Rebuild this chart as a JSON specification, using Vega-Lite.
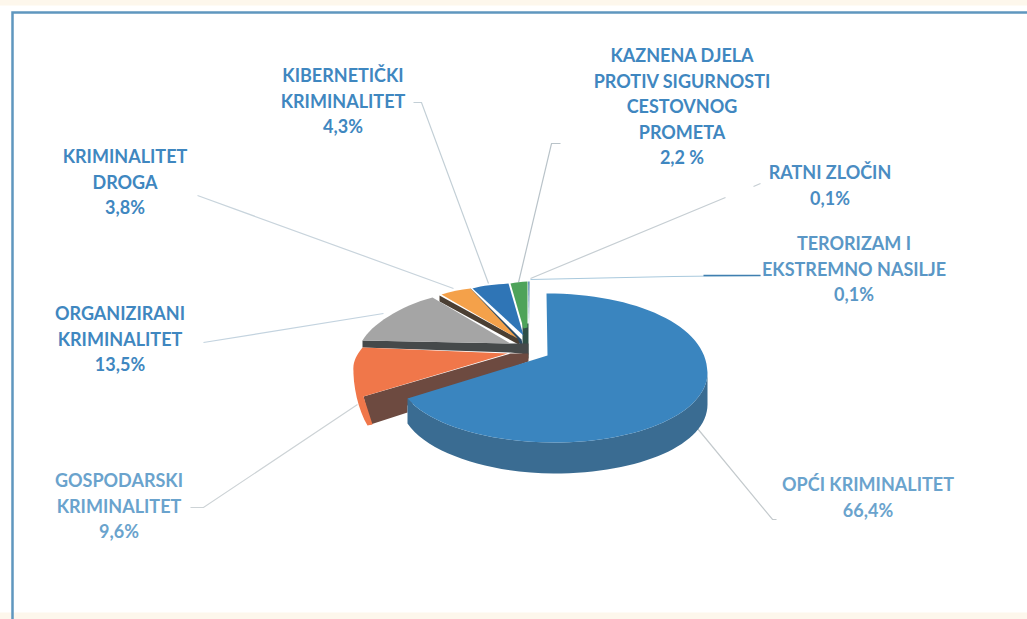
{
"$schema":"https://vega.github.io/schema/vega-lite/v6.json",
"width":1027,"height":619,"padding":0,
"autosize":"none",
"background":"#ffffff",
"config":{"view":{"stroke":null},"axis":{"disable":true},"legend":{"disable":true}},
"datasets":{"slices":[
{"category":"Ratni zločin","value":0.1,"label":"RATNI ZLOČIN\n0,1%"},
{"category":"Terorizam i ekstremno nasilje","value":0.1,"label":"TERORIZAM I\nEKSTREMNO NASILJE\n0,1%"},
{"category":"Kaznena djela protiv sigurnosti cestovnog prometa","value":2.2,"label":"KAZNENA DJELA\nPROTIV SIGURNOSTI\nCESTOVNOG\nPROMETA\n2,2 %"},
{"category":"Kibernetički kriminalitet","value":4.3,"label":"KIBERNETIČKI\nKRIMINALITET\n4,3%"},
{"category":"Kriminalitet droga","value":3.8,"label":"KRIMINALITET\nDROGA\n3,8%"},
{"category":"Organizirani kriminalitet","value":13.5,"label":"ORGANIZIRANI\nKRIMINALITET\n13,5%"},
{"category":"Gospodarski kriminalitet","value":9.6,"label":"GOSPODARSKI\nKRIMINALITET\n9,6%"},
{"category":"Opći kriminalitet","value":66.4,"label":"OPĆI KRIMINALITET\n66,4%"}
],
"frame":[{"part":"frame"}]},
"data":{"name":"slices"},
"resolve":{"scale":{"shape":"independent","color":"independent"}},
"layer":[
{"data":{"name":"frame"},"mark":{"type":"point","filled":true,"opacity":1,"size":4,"fill":"#fdf7ec","shape":"M-514,-310 H514 V-304 H-514 Z M-514,303 H514 V310 H-514 Z"}},
{"data":{"name":"frame"},"mark":{"type":"point","filled":false,"opacity":1,"size":4,"stroke":"#5f97bf","strokeWidth":2.5,"shape":"M-501,310 L-501,-297 L514,-297"}},
{"mark":{"type":"point","filled":false,"opacity":1,"size":4,"strokeWidth":1.2},
 "encoding":{
  "shape":{"field":"category","type":"nominal","scale":{
   "domain":["Ratni zločin","Terorizam i ekstremno nasilje","Kaznena djela protiv sigurnosti cestovnog prometa","Kibernetički kriminalitet","Kriminalitet droga","Organizirani kriminalitet","Gospodarski kriminalitet","Opći kriminalitet"],
   "range":["M17,-31 L212,-112 M240,-123 L247,-126","M17,-30 L160,-33 L247,-34","M5,-27 L38,-166 L47,-166","M-25,-26 L-92,-207 L-100,-207","M-60,-21 L-316,-114","M-130,4 L-310,33","M-156,95 L-310,198 L-323,198","M184,119 L259,210 L263,210"]}},
  "color":{"field":"category","type":"nominal","scale":{
   "domain":["Ratni zločin","Terorizam i ekstremno nasilje","Kaznena djela protiv sigurnosti cestovnog prometa","Kibernetički kriminalitet","Kriminalitet droga","Organizirani kriminalitet","Gospodarski kriminalitet","Opći kriminalitet"],
   "range":["#c6ced3","#a9c9dd","#b9c3c9","#c3cfd6","#c8d4dc","#c3d3df","#cdd3d6","#c4cacd"]}}
 }},
{"transform":[{"filter":"datum.value==0.1 && indexof(datum.label,'TERORIZAM')==0"}],
 "mark":{"type":"point","filled":false,"opacity":1,"size":4,"strokeWidth":1.3,"stroke":"#3f7fb0","shape":"M190,-34 L247,-34"}},
{"mark":{"type":"point","filled":true,"opacity":1,"size":4},
 "encoding":{
  "shape":{"field":"category","type":"nominal","scale":{
   "domain":["Ratni zločin","Terorizam i ekstremno nasilje","Kaznena djela protiv sigurnosti cestovnog prometa","Kibernetički kriminalitet","Kriminalitet droga","Organizirani kriminalitet","Gospodarski kriminalitet","Opći kriminalitet"],
   "range":["M15,18 L15.2,18 L15,18.2 Z","M15,18 L15.2,18 L15,18.2 Z","M9,14 L15,14 L15,49 L9,49 Z","M-43,-21 L8,30 L10,38 L-44,-17 Z","M-74,-14 L4,29 L7,36 L-74,-8 Z","M-151,31 L-3,34 L15,34 L15,45 L-3,43 L-151,38 Z","M-150,87 L-3,44 L15,44 L15,52 L-106,96 L-106,103 L-143,115 Z","M-106,89 L-106,114 C-85,145 -20,164 40,164 C127,164 194,135 194,95 L194,63 C194,103 127,133 40,133 C-23,133 -83,116 -106,89 Z"]}},
  "color":{"field":"category","type":"nominal","scale":{
   "domain":["Ratni zločin","Terorizam i ekstremno nasilje","Kaznena djela protiv sigurnosti cestovnog prometa","Kibernetički kriminalitet","Kriminalitet droga","Organizirani kriminalitet","Gospodarski kriminalitet","Opći kriminalitet"],
   "range":["#6c9bc0","#9db6c8","#2f4f46","#2a4a66","#4b3f33","#45494a","#6d4a40","#3a6c92"]}}
 }},
{"mark":{"type":"point","filled":true,"opacity":1,"size":4},
 "encoding":{
  "shape":{"field":"category","type":"nominal","scale":{
   "domain":["Ratni zločin","Terorizam i ekstremno nasilje","Kaznena djela protiv sigurnosti cestovnog prometa","Kibernetički kriminalitet","Kriminalitet droga","Organizirani kriminalitet","Gospodarski kriminalitet","Opći kriminalitet"],
   "range":["M14.5,-28 L15.5,-28 L15,18 Z","M15.5,-28 L16.5,-28 L15.5,18 Z","M-3,-26 C2,-27 8,-28 14,-28 L14,18 L10,19 Z","M-41,-21 C-31,-24 -18,-25 -5,-26 L10,26 Z","M-72,-15 C-63,-18 -53,-20 -43,-21 L4,29 Z","M-151,31 C-143,16 -113,-4 -81,-12 L-3,34 Z","M-151,38 L-6,44 L-150,87 C-158,76 -161,64 -160,56 C-159,49 -155,43 -151,38 Z M-160,56 C-161,76 -155,101 -146,116 L-141,115 L-150,87 C-158,76 -161,64 -160,56 Z","M33,-16 C122,-16 194,16 194,63 C194,103 127,133 40,133 C-23,133 -83,116 -106,89 L34,46 Z"]}},
  "color":{"field":"category","type":"nominal","scale":{
   "domain":["Ratni zločin","Terorizam i ekstremno nasilje","Kaznena djela protiv sigurnosti cestovnog prometa","Kibernetički kriminalitet","Kriminalitet droga","Organizirani kriminalitet","Gospodarski kriminalitet","Opći kriminalitet"],
   "range":["#6c9bc0","#9db6c8","#4ea35a","#2f75b6","#f4a14a","#a5a5a5","#f0774a","#3a85bf"]}}
 }},
{"transform":[{"filter":"datum.category=='Kriminalitet droga'"}],"mark":{"type":"text","font":"Lato","fontWeight":"bold","fontSize":18,"lineHeight":25.5,"lineBreak":"\n","align":"center","baseline":"middle","color":"#3f87c0"},"encoding":{"text":{"field":"label"},"x":{"datum":125,"type":"quantitative","scale":{"domain":[0,1027],"nice":false,"zero":false}},"y":{"datum":158,"type":"quantitative","scale":{"domain":[619,0],"nice":false,"zero":false}}}},
{"transform":[{"filter":"datum.category=='Kibernetički kriminalitet'"}],"mark":{"type":"text","font":"Lato","fontWeight":"bold","fontSize":18,"lineHeight":25.5,"lineBreak":"\n","align":"center","baseline":"middle","color":"#3f87c0"},"encoding":{"text":{"field":"label"},"x":{"datum":343,"type":"quantitative","scale":{"domain":[0,1027],"nice":false,"zero":false}},"y":{"datum":77,"type":"quantitative","scale":{"domain":[619,0],"nice":false,"zero":false}}}},
{"transform":[{"filter":"datum.category=='Kaznena djela protiv sigurnosti cestovnog prometa'"}],"mark":{"type":"text","font":"Lato","fontWeight":"bold","fontSize":18,"lineHeight":25.5,"lineBreak":"\n","align":"center","baseline":"middle","color":"#3f87c0"},"encoding":{"text":{"field":"label"},"x":{"datum":682,"type":"quantitative","scale":{"domain":[0,1027],"nice":false,"zero":false}},"y":{"datum":57,"type":"quantitative","scale":{"domain":[619,0],"nice":false,"zero":false}}}},
{"transform":[{"filter":"datum.category=='Ratni zločin'"}],"mark":{"type":"text","font":"Lato","fontWeight":"bold","fontSize":18,"lineHeight":25.5,"lineBreak":"\n","align":"center","baseline":"middle","color":"#4a8cc2"},"encoding":{"text":{"field":"label"},"x":{"datum":830,"type":"quantitative","scale":{"domain":[0,1027],"nice":false,"zero":false}},"y":{"datum":174,"type":"quantitative","scale":{"domain":[619,0],"nice":false,"zero":false}}}},
{"transform":[{"filter":"datum.category=='Terorizam i ekstremno nasilje'"}],"mark":{"type":"text","font":"Lato","fontWeight":"bold","fontSize":18,"lineHeight":25.5,"lineBreak":"\n","align":"center","baseline":"middle","color":"#5a97c6"},"encoding":{"text":{"field":"label"},"x":{"datum":854,"type":"quantitative","scale":{"domain":[0,1027],"nice":false,"zero":false}},"y":{"datum":245,"type":"quantitative","scale":{"domain":[619,0],"nice":false,"zero":false}}}},
{"transform":[{"filter":"datum.category=='Organizirani kriminalitet'"}],"mark":{"type":"text","font":"Lato","fontWeight":"bold","fontSize":18,"lineHeight":25.5,"lineBreak":"\n","align":"center","baseline":"middle","color":"#3f87c0"},"encoding":{"text":{"field":"label"},"x":{"datum":120,"type":"quantitative","scale":{"domain":[0,1027],"nice":false,"zero":false}},"y":{"datum":315,"type":"quantitative","scale":{"domain":[619,0],"nice":false,"zero":false}}}},
{"transform":[{"filter":"datum.category=='Gospodarski kriminalitet'"}],"mark":{"type":"text","font":"Lato","fontWeight":"bold","fontSize":18,"lineHeight":25.5,"lineBreak":"\n","align":"center","baseline":"middle","color":"#6aa3cd"},"encoding":{"text":{"field":"label"},"x":{"datum":119,"type":"quantitative","scale":{"domain":[0,1027],"nice":false,"zero":false}},"y":{"datum":482,"type":"quantitative","scale":{"domain":[619,0],"nice":false,"zero":false}}}},
{"transform":[{"filter":"datum.category=='Opći kriminalitet'"}],"mark":{"type":"text","font":"Lato","fontWeight":"bold","fontSize":18,"lineHeight":25.5,"lineBreak":"\n","align":"center","baseline":"middle","color":"#6aa3cd"},"encoding":{"text":{"field":"label"},"x":{"datum":868,"type":"quantitative","scale":{"domain":[0,1027],"nice":false,"zero":false}},"y":{"datum":486,"type":"quantitative","scale":{"domain":[619,0],"nice":false,"zero":false}}}}
]
}
